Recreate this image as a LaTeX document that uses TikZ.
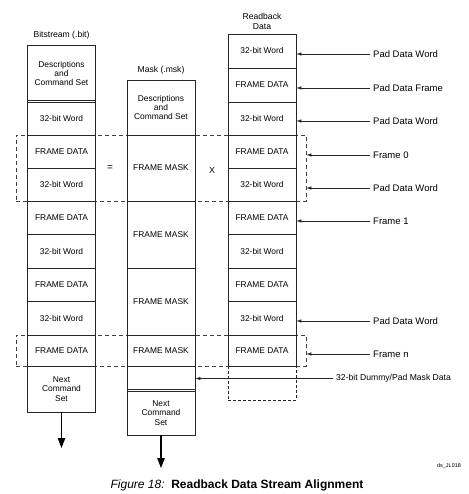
\documentclass[tikz,border=0pt]{standalone}
\usepackage{fontspec}
\setmainfont{Liberation Sans}
\usetikzlibrary{arrows.meta}
\begin{document}
\begin{tikzpicture}[x=1pt,y=-1pt,
  cell/.style={draw=black!85,line width=0.6pt,minimum width=68pt,inner sep=0pt,align=center,
    font=\fontsize{8.4}{9.4}\selectfont},
  hdr/.style={inner sep=0pt,align=center,font=\fontsize{8.6}{10}\selectfont},
  dbox/.style={draw=black!75,dashed,dash pattern=on 4pt off 3pt,line width=0.6pt,inner sep=0pt,minimum width=290pt},
  lab/.style={anchor=west,inner sep=3pt,font=\fontsize{9.5}{10}\selectfont},
  parr/.style={draw=black!85,line width=0.6pt,-{Latex[length=5pt,width=3.4pt]}},
  bigarr/.style={draw=black,line width=1.1pt,-{Triangle[length=10pt,width=7.5pt]}}
]
\useasboundingbox (0,0) rectangle (468,494);

% dashed groupings
\node[dbox,minimum height=66pt] (D1) at (161,168) {};
\node[dbox,minimum height=31pt] (D2) at (161,350.5) {};

% headers
\node[hdr] (hL) at (61.5,35) {Bitstream (.bit)};
\node[hdr] (hM) at (161,70) {Mask (.msk)};
\node[hdr] (hR) at (262,21) {Readback\\Data};

% left column
\node[cell,minimum height=57pt] (L1) at (61.5,73.5) {Descriptions\\and\\Command Set};
\draw[black!85,line width=0.6pt] ([yshift=2pt]L1.south west) -- ([yshift=2pt]L1.south east);
\node[cell,minimum height=33pt] (L2) at (61.5,118.5) {32-bit Word};
\node[cell,minimum height=33pt] (L3) at (61.5,151.5) {FRAME DATA};
\node[cell,minimum height=33pt] (L4) at (61.5,184.5) {32-bit Word};
\node[cell,minimum height=33pt] (L5) at (61.5,217.5) {FRAME DATA};
\node[cell,minimum height=34pt] (L6) at (61.5,251) {32-bit Word};
\node[cell,minimum height=33pt] (L7) at (61.5,284.5) {FRAME DATA};
\node[cell,minimum height=34pt] (L8) at (61.5,318) {32-bit Word};
\node[cell,minimum height=31pt] (L9) at (61.5,350.5) {FRAME DATA};
\node[cell,minimum height=46pt] (L10) at (61.5,389) {Next\\Command\\Set};
\coordinate (Lend) at (61.5,448);
\draw[bigarr] (L10.south) -- (Lend);

% middle column
\node[cell,minimum height=55pt] (M1) at (161,107.5) {Descriptions\\and\\Command Set};
\node[cell,minimum height=66pt] (M2) at (161,168) {FRAME MASK};
\node[cell,minimum height=67pt] (M3) at (161,234.5) {FRAME MASK};
\node[cell,minimum height=67pt] (M4) at (161,301.5) {FRAME MASK};
\node[cell,minimum height=31pt] (M5) at (161,350.5) {FRAME MASK};
\node[cell,minimum height=25pt] (M6) at (161,378.5) {};
\draw[black!85,line width=0.6pt] ([yshift=2pt]M6.south west) -- ([yshift=2pt]M6.south east);
\node[cell,minimum height=44pt] (M7) at (161,413) {Next\\Command\\Set};
\coordinate (Mend) at (161,468);
\draw[bigarr] (M7.south) -- (Mend);

% operators
\node[hdr,font=\fontsize{10}{10}\selectfont] (eq) at (110,168) {=};
\node[hdr,font=\fontsize{9}{10}\selectfont] (times) at (212,170) {X};

% readback column
\node[cell,dashed,dash pattern=on 3pt off 2pt,minimum height=34pt] (R11) at (262,383) {};
\node[cell,minimum height=34pt] (R1) at (262,51) {32-bit Word};
\node[cell,minimum height=34pt] (R2) at (262,85) {FRAME DATA};
\node[cell,minimum height=33pt] (R3) at (262,118.5) {32-bit Word};
\node[cell,minimum height=33pt] (R4) at (262,151.5) {FRAME DATA};
\node[cell,minimum height=33pt] (R5) at (262,184.5) {32-bit Word};
\node[cell,minimum height=33pt] (R6) at (262,217.5) {FRAME DATA};
\node[cell,minimum height=34pt] (R7) at (262,251) {32-bit Word};
\node[cell,minimum height=33pt] (R8) at (262,284.5) {FRAME DATA};
\node[cell,minimum height=34pt] (R9) at (262,318) {32-bit Word};
\node[cell,minimum height=31pt] (R10) at (262,350.5) {FRAME DATA};

% right-hand labels
\node[lab] (a1) at (370,54) {Pad Data Word};
\node[lab] (a2) at (370,88) {Pad Data Frame};
\node[lab] (a3) at (370,121) {Pad Data Word};
\node[lab] (a4) at (370,155) {Frame 0};
\node[lab] (a5) at (370,188) {Pad Data Word};
\node[lab] (a6) at (370,221) {Frame 1};
\node[lab] (a7) at (370,321) {Pad Data Word};
\node[lab] (a8) at (370,354) {Frame n};
\node[lab,font=\fontsize{8.6}{10}\selectfont] (a9) at (333,378.5) {32-bit Dummy/Pad Mask Data};

\draw[parr] (a1.west) -- (R1.east |- a1.west);
\draw[parr] (a2.west) -- (R2.east |- a2.west);
\draw[parr] (a3.west) -- (R3.east |- a3.west);
\draw[parr] (a4.west) -- (D1.east |- a4.west);
\draw[parr] (a5.west) -- (D1.east |- a5.west);
\draw[parr] (a6.west) -- (R6.east |- a6.west);
\draw[parr] (a7.west) -- (R9.east |- a7.west);
\draw[parr] (a8.west) -- (D2.east |- a8.west);
\draw[parr] (a9.west) -- (M6.east |- a9.west);

% caption and code
\node[inner sep=0pt,font=\fontsize{12}{14}\selectfont] (cap) at (237,485)
  {\textit{Figure 18:}\ \ \textbf{Readback Data Stream Alignment}};
\node[inner sep=0pt,font=\fontsize{5.5}{6}\selectfont] (code) at (449,466) {ds\_JL018};
\end{tikzpicture}
\end{document}
